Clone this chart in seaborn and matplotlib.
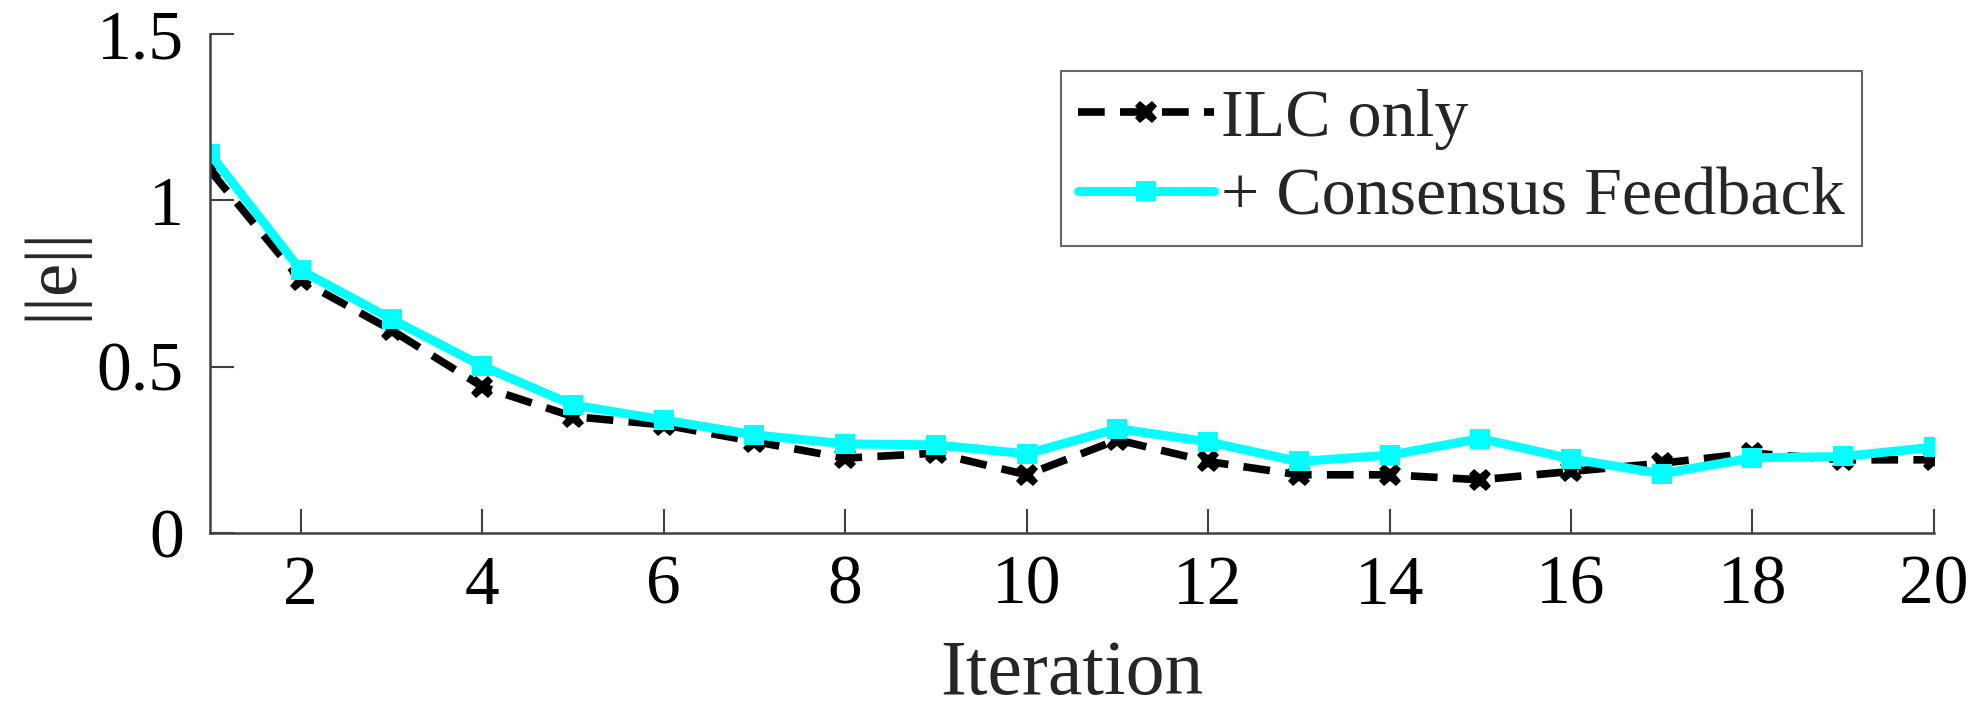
import matplotlib
matplotlib.use("Agg")
import matplotlib.pyplot as plt
import pandas as pd
import seaborn as sns

ITERATIONS = list(range(1, 21))
ILC_ONLY = [1.09, 0.76, 0.61, 0.44, 0.35, 0.325, 0.275, 0.225, 0.24, 0.175,
            0.28, 0.215, 0.175, 0.175, 0.16, 0.185, 0.21, 0.24, 0.22, 0.22]
CONSENSUS = [1.14, 0.79, 0.643, 0.502, 0.385, 0.34, 0.295, 0.268, 0.265, 0.238,
             0.314, 0.274, 0.215, 0.234, 0.284, 0.223, 0.178, 0.226, 0.23, 0.258]
LABELS = ["ILC only", "+ Consensus Feedback"]

sns.set_theme(style="white")
plt.rcParams["font.family"] = ["Liberation Serif", "DejaVu Serif"]

df = pd.DataFrame({
    "Iteration": ITERATIONS * 2,
    "e": ILC_ONLY + CONSENSUS,
    "Method": [LABELS[0]] * len(ITERATIONS) + [LABELS[1]] * len(ITERATIONS),
})

fig = plt.figure(figsize=(19.76, 7.1), dpi=100)
ax = fig.add_axes([0.1063, 0.2493, 0.8724, 0.7027])

sns.lineplot(data=df[df["Method"] == LABELS[0]], x="Iteration", y="e", ax=ax,
             color="black", linestyle=(0, (3.5, 2)), linewidth=5.5, marker="X",
             markersize=16, markeredgewidth=0, label=LABELS[0])
sns.lineplot(data=df[df["Method"] == LABELS[1]], x="Iteration", y="e", ax=ax,
             color="#00ffff", linewidth=6.5, marker="s", markersize=15,
             markeredgewidth=0, label=LABELS[1])

ax.set_xlim(1, 20)
ax.set_ylim(0, 1.5)
ax.set_xticks(range(2, 21, 2))
ax.set_yticks([0, 0.5, 1, 1.5])
ax.set_yticklabels(["0", "0.5", "1", "1.5"])
ax.tick_params(bottom=True, left=True, direction="in", length=17, width=1.5,
               colors="#404040", labelsize=50, labelcolor="black")
ax.tick_params(axis="x", pad=16)
ax.tick_params(axis="y", pad=19)
for side in ["top", "right"]:
    ax.spines[side].set_visible(False)
for side in ["left", "bottom"]:
    ax.spines[side].set_color("#404040")
    ax.spines[side].set_linewidth(1.8)

ax.set_xlabel("Iteration", fontsize=56)
ax.xaxis.label.set_va("baseline")
ax.xaxis.set_label_coords(0.5, -0.322)
ax.set_ylabel("||e||", fontsize=54)
ax.yaxis.label.set_va("center")
ax.yaxis.set_label_coords(-0.091, 0.52)

leg = ax.legend(loc="upper right", bbox_to_anchor=(0.958, 0.925), fontsize=49,
                frameon=True, fancybox=False, handlelength=2.0,
                handletextpad=0.1, borderpad=0.25, labelspacing=0.25,
                borderaxespad=0)
leg.get_frame().set_edgecolor("#404040")
leg.get_frame().set_linewidth(1.5)

fig.savefig("out.png", dpi=100)
